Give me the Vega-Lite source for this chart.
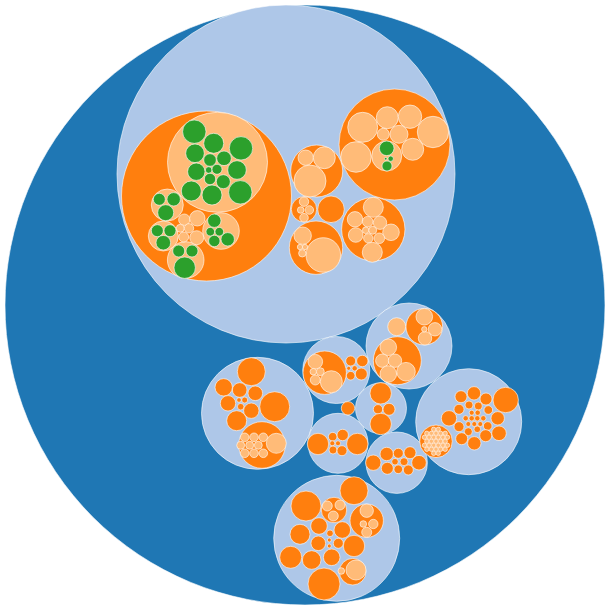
{
  "$schema": "https://vega.github.io/schema/vega-lite/v6.json",
  "width": 610,
  "height": 610,
  "padding": 0,
  "autosize": {"type": "none"},
  "background": "white",
  "data": {"values": [
    {"x": 305, "y": 305, "r": 300, "depth": 0},

    {"x": 286, "y": 174, "r": 169, "depth": 1},
    {"x": 257.5, "y": 413.3, "r": 56, "depth": 1},
    {"x": 336.3, "y": 370, "r": 33.5, "depth": 1},
    {"x": 409, "y": 346, "r": 43, "depth": 1},
    {"x": 468.7, "y": 421.7, "r": 53, "depth": 1},
    {"x": 381, "y": 408.3, "r": 25.5, "depth": 1},
    {"x": 338, "y": 443.3, "r": 30, "depth": 1},
    {"x": 396.7, "y": 462.7, "r": 30.7, "depth": 1},
    {"x": 336.7, "y": 538.3, "r": 63, "depth": 1},

    {"x": 348, "y": 408.3, "r": 6.7, "depth": 2},
    {"x": 206.5, "y": 196, "r": 85, "depth": 2},
    {"x": 394.5, "y": 144.5, "r": 55.5, "depth": 2},
    {"x": 316.7, "y": 171, "r": 26, "depth": 2},
    {"x": 304, "y": 209.3, "r": 12.7, "depth": 2},
    {"x": 331, "y": 209.3, "r": 13.3, "depth": 2},
    {"x": 316, "y": 247.7, "r": 26.7, "depth": 2},
    {"x": 373.3, "y": 229.3, "r": 31.7, "depth": 2},

    {"x": 251.3, "y": 371.7, "r": 14, "depth": 2},
    {"x": 223.7, "y": 387.3, "r": 8.7, "depth": 2},
    {"x": 239.7, "y": 390, "r": 7.3, "depth": 2},
    {"x": 255.3, "y": 393.3, "r": 7.3, "depth": 2},
    {"x": 228, "y": 403.3, "r": 7.7, "depth": 2},
    {"x": 239, "y": 400, "r": 2.3, "depth": 2},
    {"x": 244.7, "y": 400, "r": 3, "depth": 2},
    {"x": 240.7, "y": 406.7, "r": 3.3, "depth": 2},
    {"x": 251.3, "y": 410.7, "r": 7.7, "depth": 2},
    {"x": 274.7, "y": 406.7, "r": 15, "depth": 2},
    {"x": 236.7, "y": 420.7, "r": 10, "depth": 2},
    {"x": 262, "y": 445, "r": 23.3, "depth": 2},

    {"x": 324.7, "y": 372.7, "r": 21.7, "depth": 2},
    {"x": 350.7, "y": 361, "r": 5, "depth": 2},
    {"x": 362.3, "y": 361, "r": 5.7, "depth": 2},
    {"x": 348.7, "y": 368.3, "r": 2, "depth": 2},
    {"x": 354.7, "y": 368.3, "r": 2.7, "depth": 2},
    {"x": 350.7, "y": 375.7, "r": 4.3, "depth": 2},
    {"x": 361.3, "y": 374, "r": 6, "depth": 2},

    {"x": 424.3, "y": 326.7, "r": 18.3, "depth": 2},
    {"x": 397.3, "y": 360.7, "r": 24, "depth": 2},
    {"x": 396.7, "y": 326.7, "r": 9, "depth": 3},

    {"x": 505.7, "y": 400, "r": 12.7, "depth": 2},
    {"x": 436, "y": 441.3, "r": 16.3, "depth": 2},
    {"x": 461, "y": 396.7, "r": 6, "depth": 2},
    {"x": 474, "y": 393.3, "r": 6.7, "depth": 2},
    {"x": 486, "y": 399, "r": 6, "depth": 2},
    {"x": 449, "y": 418.3, "r": 7.7, "depth": 2},
    {"x": 459, "y": 409.3, "r": 5, "depth": 2},
    {"x": 469, "y": 405, "r": 4, "depth": 2},
    {"x": 478.3, "y": 406, "r": 4, "depth": 2},
    {"x": 488.3, "y": 410, "r": 4.3, "depth": 2},
    {"x": 459, "y": 426.7, "r": 5, "depth": 2},
    {"x": 468.3, "y": 431.7, "r": 4, "depth": 2},
    {"x": 477.3, "y": 429.3, "r": 3.3, "depth": 2},
    {"x": 487.7, "y": 426, "r": 4.3, "depth": 2},
    {"x": 497.7, "y": 418.3, "r": 6.7, "depth": 2},
    {"x": 499, "y": 433.3, "r": 7.3, "depth": 2},
    {"x": 461.7, "y": 438.7, "r": 6, "depth": 2},
    {"x": 474.3, "y": 443.3, "r": 6.7, "depth": 2},
    {"x": 485.7, "y": 435.7, "r": 6, "depth": 2},
    {"x": 465.7, "y": 418.3, "r": 2.7, "depth": 2},
    {"x": 471.7, "y": 418.3, "r": 2.7, "depth": 2},
    {"x": 477.3, "y": 418.3, "r": 2.7, "depth": 2},
    {"x": 483.3, "y": 418.3, "r": 2.7, "depth": 2},
    {"x": 468.3, "y": 424, "r": 2.5, "depth": 2},
    {"x": 474.3, "y": 424, "r": 2.5, "depth": 2},
    {"x": 480.3, "y": 424, "r": 2.5, "depth": 2},
    {"x": 471.7, "y": 412.7, "r": 2.5, "depth": 2},
    {"x": 477.7, "y": 412.7, "r": 2.7, "depth": 2},

    {"x": 380.7, "y": 393.3, "r": 10.7, "depth": 2},
    {"x": 378, "y": 409.3, "r": 4.7, "depth": 2},
    {"x": 389, "y": 409.3, "r": 6, "depth": 2},
    {"x": 380.7, "y": 424, "r": 10.7, "depth": 2},

    {"x": 318, "y": 444, "r": 10.7, "depth": 2},
    {"x": 357.3, "y": 444, "r": 10.7, "depth": 2},
    {"x": 332.7, "y": 436.7, "r": 4.3, "depth": 2},
    {"x": 342.7, "y": 435, "r": 5.7, "depth": 2},
    {"x": 332.3, "y": 443.3, "r": 2.5, "depth": 2},
    {"x": 338, "y": 443.3, "r": 2.5, "depth": 2},
    {"x": 333, "y": 450, "r": 4, "depth": 2},
    {"x": 342, "y": 450.7, "r": 5, "depth": 2},

    {"x": 373.3, "y": 462.7, "r": 7.7, "depth": 2},
    {"x": 386.7, "y": 454, "r": 6.7, "depth": 2},
    {"x": 398.3, "y": 453.3, "r": 5, "depth": 2},
    {"x": 410, "y": 452.7, "r": 6, "depth": 2},
    {"x": 419, "y": 462.7, "r": 7.3, "depth": 2},
    {"x": 387.3, "y": 468.3, "r": 6, "depth": 2},
    {"x": 398.3, "y": 469.3, "r": 4.3, "depth": 2},
    {"x": 408.3, "y": 470, "r": 5, "depth": 2},
    {"x": 395, "y": 461.7, "r": 3.3, "depth": 2},
    {"x": 404, "y": 461.7, "r": 4, "depth": 2},

    {"x": 354, "y": 490.7, "r": 14, "depth": 2},
    {"x": 306, "y": 506, "r": 15, "depth": 2},
    {"x": 334, "y": 510, "r": 12.7, "depth": 2},
    {"x": 366.7, "y": 520.7, "r": 16.7, "depth": 2},
    {"x": 319, "y": 526, "r": 8.3, "depth": 2},
    {"x": 342.3, "y": 530, "r": 8.3, "depth": 2},
    {"x": 300, "y": 534.3, "r": 10, "depth": 2},
    {"x": 330, "y": 533.3, "r": 3.3, "depth": 2},
    {"x": 318.3, "y": 543.3, "r": 7.3, "depth": 2},
    {"x": 338.3, "y": 543.3, "r": 5, "depth": 2},
    {"x": 354, "y": 546, "r": 10.7, "depth": 2},
    {"x": 329.3, "y": 540, "r": 2, "depth": 2},
    {"x": 329.3, "y": 546, "r": 2, "depth": 2},
    {"x": 290.7, "y": 557.3, "r": 11, "depth": 2},
    {"x": 311.7, "y": 560, "r": 9.3, "depth": 2},
    {"x": 331.7, "y": 557.3, "r": 8.3, "depth": 2},
    {"x": 352.7, "y": 571.7, "r": 13.3, "depth": 2},
    {"x": 324, "y": 584, "r": 16, "depth": 2},

    {"x": 217.5, "y": 162.3, "r": 50, "depth": 3},
    {"x": 167.3, "y": 205, "r": 16, "depth": 3},
    {"x": 163.3, "y": 236, "r": 15, "depth": 3},
    {"x": 185.7, "y": 260, "r": 18.3, "depth": 3},
    {"x": 221, "y": 231, "r": 18.3, "depth": 3},
    {"x": 184.3, "y": 219.7, "r": 5.7, "depth": 3},
    {"x": 197.3, "y": 218.3, "r": 7.7, "depth": 3},
    {"x": 180.3, "y": 228.3, "r": 4, "depth": 3},
    {"x": 189, "y": 228.3, "r": 4.7, "depth": 3},
    {"x": 183.7, "y": 237, "r": 5, "depth": 3},
    {"x": 196.7, "y": 237.7, "r": 7, "depth": 3},

    {"x": 362.7, "y": 127.3, "r": 15, "depth": 3},
    {"x": 387.3, "y": 117.7, "r": 11, "depth": 3},
    {"x": 410, "y": 116.7, "r": 11.7, "depth": 3},
    {"x": 433, "y": 132, "r": 15.7, "depth": 3},
    {"x": 383.3, "y": 134.3, "r": 6, "depth": 3},
    {"x": 399, "y": 134.3, "r": 9, "depth": 3},
    {"x": 356, "y": 157, "r": 15.3, "depth": 3},
    {"x": 386.7, "y": 156, "r": 15, "depth": 3},
    {"x": 412.7, "y": 149.3, "r": 11, "depth": 3},

    {"x": 305.7, "y": 157.7, "r": 7.7, "depth": 3},
    {"x": 324.3, "y": 157.7, "r": 11, "depth": 3},
    {"x": 310, "y": 181, "r": 16, "depth": 3},

    {"x": 304, "y": 201.7, "r": 4.7, "depth": 3},
    {"x": 300.7, "y": 210, "r": 3.3, "depth": 3},
    {"x": 309.3, "y": 210, "r": 4.3, "depth": 3},
    {"x": 304, "y": 217.7, "r": 4.3, "depth": 3},

    {"x": 302.7, "y": 235.7, "r": 8.7, "depth": 3},
    {"x": 323.3, "y": 255, "r": 17.3, "depth": 3},
    {"x": 300, "y": 247, "r": 2.7, "depth": 3},
    {"x": 305, "y": 247, "r": 2.7, "depth": 3},
    {"x": 302.3, "y": 253.3, "r": 3.7, "depth": 3},

    {"x": 373.3, "y": 207.3, "r": 10, "depth": 3},
    {"x": 355, "y": 219.3, "r": 7.7, "depth": 3},
    {"x": 367.7, "y": 221.7, "r": 5.3, "depth": 3},
    {"x": 380, "y": 222.7, "r": 6.7, "depth": 3},
    {"x": 391, "y": 232.3, "r": 8.3, "depth": 3},
    {"x": 355.7, "y": 235, "r": 7.3, "depth": 3},
    {"x": 365.7, "y": 230.3, "r": 3.3, "depth": 3},
    {"x": 372.7, "y": 230.3, "r": 4, "depth": 3},
    {"x": 368.3, "y": 238.3, "r": 4.7, "depth": 3},
    {"x": 379.3, "y": 238.3, "r": 5.3, "depth": 3},
    {"x": 372.3, "y": 252.3, "r": 10, "depth": 3},

    {"x": 244.7, "y": 437.3, "r": 4.3, "depth": 3},
    {"x": 254, "y": 437.3, "r": 4.3, "depth": 3},
    {"x": 263.3, "y": 437.3, "r": 4.3, "depth": 3},
    {"x": 240.7, "y": 445.3, "r": 4, "depth": 3},
    {"x": 249.7, "y": 445.3, "r": 4, "depth": 3},
    {"x": 258.3, "y": 445.3, "r": 4, "depth": 3},
    {"x": 276.3, "y": 443.3, "r": 10, "depth": 3},
    {"x": 244.7, "y": 453.3, "r": 4.3, "depth": 3},
    {"x": 254, "y": 453.3, "r": 4.3, "depth": 3},
    {"x": 263.3, "y": 453.3, "r": 4.3, "depth": 3},

    {"x": 315.3, "y": 361.7, "r": 7.3, "depth": 3},
    {"x": 313.3, "y": 371.7, "r": 3.3, "depth": 3},
    {"x": 320.3, "y": 371.7, "r": 4, "depth": 3},
    {"x": 315.3, "y": 380, "r": 5, "depth": 3},
    {"x": 331.3, "y": 381.7, "r": 11, "depth": 3},

    {"x": 424.3, "y": 316.7, "r": 8.3, "depth": 3},
    {"x": 435, "y": 329.3, "r": 6.7, "depth": 3},
    {"x": 425, "y": 338.3, "r": 6.7, "depth": 3},
    {"x": 424.3, "y": 329.3, "r": 2.7, "depth": 3},

    {"x": 388.3, "y": 347.3, "r": 8.3, "depth": 3},
    {"x": 382.3, "y": 360.7, "r": 6.7, "depth": 3},
    {"x": 395, "y": 360.7, "r": 6.7, "depth": 3},
    {"x": 388.3, "y": 374, "r": 8.3, "depth": 3},
    {"x": 406, "y": 371.7, "r": 9.3, "depth": 3},

    {"x": 327.3, "y": 506, "r": 5, "depth": 3},
    {"x": 340, "y": 505, "r": 5, "depth": 3},
    {"x": 333.3, "y": 516, "r": 5, "depth": 3},

    {"x": 366.7, "y": 510.7, "r": 6.7, "depth": 3},
    {"x": 373.3, "y": 524, "r": 4.7, "depth": 3},
    {"x": 363.3, "y": 524, "r": 3.3, "depth": 3},
    {"x": 366.7, "y": 532.3, "r": 5, "depth": 3},

    {"x": 356, "y": 570, "r": 10, "depth": 3},
    {"x": 341.3, "y": 571, "r": 3.3, "depth": 3},

    {"x": 433.7, "y": 429.3, "r": 2.2, "depth": 3},
    {"x": 438.3, "y": 429.3, "r": 2.2, "depth": 3},
    {"x": 426.8, "y": 433.3, "r": 2.2, "depth": 3},
    {"x": 431.4, "y": 433.3, "r": 2.2, "depth": 3},
    {"x": 436, "y": 433.3, "r": 2.2, "depth": 3},
    {"x": 440.6, "y": 433.3, "r": 2.2, "depth": 3},
    {"x": 445.2, "y": 433.3, "r": 2.2, "depth": 3},
    {"x": 424.5, "y": 437.3, "r": 2.2, "depth": 3},
    {"x": 429.1, "y": 437.3, "r": 2.2, "depth": 3},
    {"x": 433.7, "y": 437.3, "r": 2.2, "depth": 3},
    {"x": 438.3, "y": 437.3, "r": 2.2, "depth": 3},
    {"x": 442.9, "y": 437.3, "r": 2.2, "depth": 3},
    {"x": 447.5, "y": 437.3, "r": 2.2, "depth": 3},
    {"x": 426.8, "y": 441.3, "r": 2.2, "depth": 3},
    {"x": 431.4, "y": 441.3, "r": 2.2, "depth": 3},
    {"x": 436, "y": 441.3, "r": 2.2, "depth": 3},
    {"x": 440.6, "y": 441.3, "r": 2.2, "depth": 3},
    {"x": 445.2, "y": 441.3, "r": 2.2, "depth": 3},
    {"x": 424.5, "y": 445.3, "r": 2.2, "depth": 3},
    {"x": 429.1, "y": 445.3, "r": 2.2, "depth": 3},
    {"x": 433.7, "y": 445.3, "r": 2.2, "depth": 3},
    {"x": 438.3, "y": 445.3, "r": 2.2, "depth": 3},
    {"x": 442.9, "y": 445.3, "r": 2.2, "depth": 3},
    {"x": 447.5, "y": 445.3, "r": 2.2, "depth": 3},
    {"x": 426.8, "y": 449.3, "r": 2.2, "depth": 3},
    {"x": 431.4, "y": 449.3, "r": 2.2, "depth": 3},
    {"x": 436, "y": 449.3, "r": 2.2, "depth": 3},
    {"x": 440.6, "y": 449.3, "r": 2.2, "depth": 3},
    {"x": 445.2, "y": 449.3, "r": 2.2, "depth": 3},
    {"x": 433.7, "y": 453.3, "r": 2.2, "depth": 3},
    {"x": 438.3, "y": 453.3, "r": 2.2, "depth": 3},

    {"x": 194.3, "y": 131.7, "r": 11.7, "depth": 4},
    {"x": 213.7, "y": 143.3, "r": 10, "depth": 4},
    {"x": 241, "y": 148.3, "r": 11.7, "depth": 4},
    {"x": 195, "y": 153.3, "r": 9.3, "depth": 4},
    {"x": 210, "y": 160, "r": 6.3, "depth": 4},
    {"x": 224, "y": 158.3, "r": 7.3, "depth": 4},
    {"x": 196.3, "y": 171.7, "r": 8.7, "depth": 4},
    {"x": 208.7, "y": 170, "r": 3.3, "depth": 4},
    {"x": 217, "y": 169.3, "r": 5, "depth": 4},
    {"x": 237, "y": 170, "r": 9.3, "depth": 4},
    {"x": 210, "y": 179, "r": 5.7, "depth": 4},
    {"x": 223.3, "y": 181.7, "r": 7, "depth": 4},
    {"x": 191.3, "y": 191, "r": 10, "depth": 4},
    {"x": 212, "y": 195, "r": 10, "depth": 4},
    {"x": 240.3, "y": 192.3, "r": 11.7, "depth": 4},

    {"x": 159.3, "y": 199.3, "r": 6, "depth": 4},
    {"x": 173.7, "y": 199.3, "r": 6.7, "depth": 4},
    {"x": 165.7, "y": 212.7, "r": 8, "depth": 4},
    {"x": 157.3, "y": 230.7, "r": 6, "depth": 4},
    {"x": 170, "y": 230.7, "r": 6, "depth": 4},
    {"x": 163.3, "y": 242.7, "r": 7.3, "depth": 4},
    {"x": 178.7, "y": 251, "r": 6, "depth": 4},
    {"x": 192, "y": 251, "r": 6, "depth": 4},
    {"x": 184.7, "y": 267.7, "r": 10.7, "depth": 4},
    {"x": 214.3, "y": 220.7, "r": 6.7, "depth": 4},
    {"x": 210.3, "y": 231.7, "r": 4.3, "depth": 4},
    {"x": 219.3, "y": 231.7, "r": 4.3, "depth": 4},
    {"x": 214.3, "y": 241, "r": 5.7, "depth": 4},
    {"x": 227.7, "y": 239.3, "r": 6.7, "depth": 4},

    {"x": 386.7, "y": 148.3, "r": 7.3, "depth": 4},
    {"x": 390.7, "y": 158.7, "r": 2.7, "depth": 4},
    {"x": 385.7, "y": 158.7, "r": 1.3, "depth": 4},
    {"x": 387, "y": 166, "r": 5, "depth": 4}
  ]},
  "mark": {
    "type": "point",
    "shape": "circle",
    "filled": true,
    "opacity": 1,
    "fillOpacity": 1,
    "stroke": "white",
    "strokeWidth": 1,
    "strokeOpacity": 0.6
  },
  "encoding": {
    "x": {"field": "x", "type": "quantitative", "scale": {"domain": [0, 610], "nice": false, "zero": false}, "axis": null},
    "y": {"field": "y", "type": "quantitative", "scale": {"domain": [0, 610], "nice": false, "zero": false, "reverse": true}, "axis": null},
    "size": {
      "field": "r",
      "type": "quantitative",
      "scale": {"type": "pow", "exponent": 2, "domain": [0, 300], "range": [0, 360000]},
      "legend": null
    },
    "fill": {
      "field": "depth",
      "type": "ordinal",
      "scale": {"domain": [0, 1, 2, 3, 4], "range": ["#1f77b4", "#aec7e8", "#ff7f0e", "#ffbb78", "#2ca02c"]},
      "legend": null
    },
    "order": {"field": "depth", "type": "quantitative"}
  },
  "config": {"view": {"stroke": null}}
}
